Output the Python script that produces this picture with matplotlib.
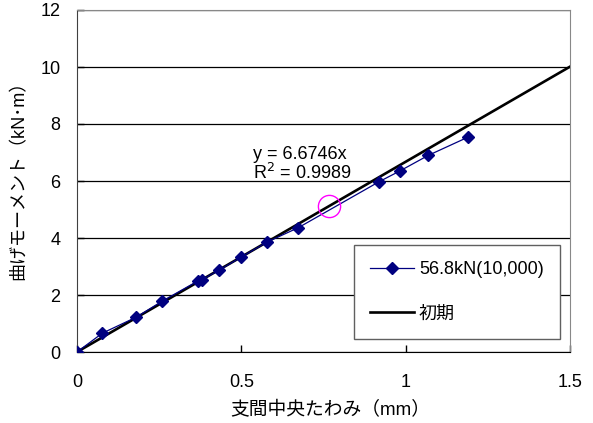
import numpy as np
import matplotlib.pyplot as plt

# deflection at mid-span (mm) and bending moment (kN·m), 56.8kN after 10,000 cycles
deflection = [0.0, 0.077, 0.180, 0.260, 0.369, 0.379, 0.432, 0.498, 0.577,
              0.673, 0.920, 0.982, 1.069, 1.190]
moment = [0.0, 0.66, 1.22, 1.79, 2.50, 2.53, 2.87, 3.32, 3.85,
          4.36, 5.98, 6.35, 6.90, 7.54]

# initial stiffness line
slope = 6.6746
r2 = 0.9989
line_x = [0.0, 1.5]

# marked point on the line
mark_x, mark_y = 0.768, 5.12

plt.rcParams['font.family'] = ['Liberation Sans', 'Noto Sans CJK JP']
plt.rcParams['font.size'] = 13

fig = plt.figure(figsize=(5.93, 4.23), dpi=100)
ax = fig.add_axes([77/593, 1-352/423, 493/593, 342/423])

ax.plot(deflection, moment, '-D', color='#000080', lw=0.9, ms=6,
        label='56.8kN(10,000)', zorder=4)
ax.plot(line_x, [slope*v for v in line_x], color='black', lw=1.9,
        label='初期', zorder=3)
ax.plot(mark_x, mark_y, 'o', ms=16, mfc='none', mec='#ff00ff', mew=1.0, zorder=5)

ax.text(0.535, 6.93, 'y = %.4fx' % slope, va='center')
ax.text(0.535, 6.29, 'R$^2$ = %.4f' % r2, va='center')

ax.set_xlim(0, 1.5)
ax.set_ylim(0, 12)
ax.set_xticks([0, 0.5, 1, 1.5])
ax.set_xticklabels(['0', '0.5', '1', '1.5'])
ax.set_yticks(np.arange(0, 13, 2))
ax.tick_params(direction='in', length=5, width=1, pad=16)
ax.tick_params(axis='y', pad=12)
ax.yaxis.grid(True, color='black', lw=0.9)
ax.set_axisbelow(True)

ax.spines['left'].set_color('#404040')
ax.spines['bottom'].set_color('black')
ax.spines['top'].set_color('#888888')
ax.spines['right'].set_color('#888888')

ax.set_xlabel('支間中央たわみ（mm）', fontsize=13.5)
ax.set_ylabel('曲げモーメント（kN･m）')
ax.xaxis.set_label_coords(0.513, -0.145)
ax.yaxis.set_label_coords(-0.1, 0.515)

leg = ax.legend(loc='upper left', bbox_to_anchor=(354/593, 1-245/423),
                bbox_transform=fig.transFigure, fancybox=False, framealpha=1,
                edgecolor='#606060', borderpad=0.9, labelspacing=1.5,
                handlelength=2.4, handletextpad=0.3, borderaxespad=0)
leg.get_frame().set_linewidth(1.0)

fig.savefig('out.png', dpi=100)
